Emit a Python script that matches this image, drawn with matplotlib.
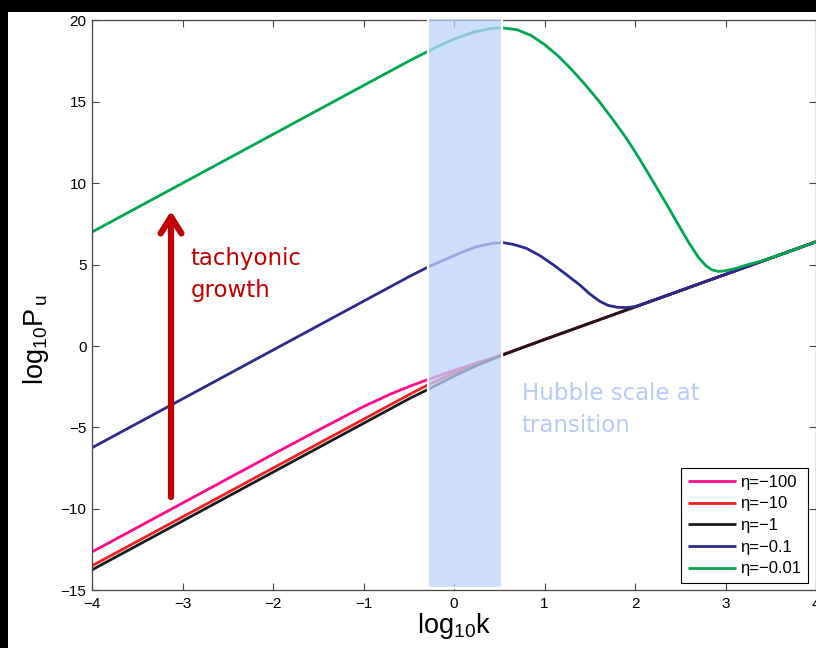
import matplotlib
matplotlib.use("Agg")
import matplotlib.pyplot as plt
from matplotlib.patches import Rectangle

plt.rcParams['font.family'] = ['Liberation Sans', 'DejaVu Sans']
plt.rcParams['mathtext.fontset'] = 'custom'
plt.rcParams['mathtext.rm'] = 'Liberation Sans'
plt.rcParams['mathtext.it'] = 'Liberation Sans'

# log10 k and log10 P_u for each conformal time eta
k_pink = [-4.0, -3.0, -2.0, -1.5, -1.0, -0.7, -0.5, -0.3, 0.0, 0.25, 0.54, 1.0, 2.0, 3.0, 4.0]
P_pink = [-12.65, -9.65, -6.65, -5.17, -3.72, -2.95, -2.5, -2.08, -1.5, -1.05, -0.53, 0.4, 2.4, 4.4, 6.4]

k_red = [-4.0, -3.0, -2.0, -1.0, -0.5, -0.3, 0.0, 0.25, 0.54, 1.0, 2.0, 3.0, 4.0]
P_red = [-13.5, -10.5, -7.5, -4.5, -3.0, -2.42, -1.65, -1.1, -0.53, 0.4, 2.4, 4.4, 6.4]

k_black = [-4.0, -3.0, -2.0, -1.0, -0.5, -0.3, 0.0, 0.25, 0.54, 1.0, 2.0, 3.0, 4.0]
P_black = [-13.75, -10.75, -7.75, -4.75, -3.25, -2.7, -1.85, -1.2, -0.55, 0.4, 2.4, 4.4, 6.4]

k_blue = [-4.0, -3.0, -2.0, -1.0, -0.5, -0.28, 0.0, 0.1, 0.25, 0.43, 0.54, 0.65, 0.8,
          0.95, 1.1, 1.25, 1.39, 1.5, 1.61, 1.7, 1.8, 1.91, 2.0, 2.13, 2.3, 2.5, 2.7,
          2.9, 3.2, 3.5, 3.75, 4.0]
P_blue = [-6.25, -3.25, -0.25, 2.75, 4.25, 4.87, 5.55, 5.79, 6.1, 6.31, 6.35, 6.25, 6.0,
          5.55, 4.98, 4.35, 3.75, 3.2, 2.75, 2.5, 2.38, 2.36, 2.42, 2.66, 3.0, 3.4, 3.8,
          4.2, 4.8, 5.4, 5.9, 6.4]

k_green = [-4.0, -3.0, -2.0, -1.0, -0.5, -0.2, 0.0, 0.2, 0.4, 0.53, 0.7, 0.85, 1.0,
           1.15, 1.3, 1.45, 1.6, 1.75, 1.9, 2.05, 2.2, 2.35, 2.5, 2.6, 2.7, 2.78, 2.85,
           2.92, 3.0, 3.1, 3.25, 3.4, 3.6, 3.8, 4.0]
P_green = [7.0, 10.0, 13.0, 16.0, 17.5, 18.35, 18.85, 19.25, 19.5, 19.55, 19.42, 19.08, 18.52,
           17.82, 16.98, 16.05, 15.05, 13.95, 12.8, 11.5, 10.1, 8.7, 7.25, 6.3, 5.45, 4.95, 4.68,
           4.58, 4.62, 4.75, 5.0, 5.22, 5.6, 6.0, 6.4]

labels = ['η=−100', 'η=−10', 'η=−1', 'η=−0.1', 'η=−0.01']
colors = ['#ff0a8c', '#ee2024', '#1a1a1a', '#2b2b8e', '#00a651']

x_ticks = [-4, -3, -2, -1, 0, 1, 2, 3, 4]
y_ticks = [-15, -10, -5, 0, 5, 10, 15, 20]

# shaded k-range around the Hubble scale at the transition
band_k = (-0.29, 0.53)

W, H = 816, 648
fig = plt.figure(figsize=(W / 100, H / 100), dpi=100, facecolor='black')
fig.add_artist(Rectangle((8 / W, 0), 1 - 8 / W, 1 - 12 / H, transform=fig.transFigure,
                         facecolor='white', edgecolor='none', zorder=-5))

ax = fig.add_axes([92 / W, (H - 590.2) / H, 724 / W, 569.8 / H])
ax.set_facecolor('white')

series = [(k_pink, P_pink), (k_red, P_red), (k_black, P_black), (k_blue, P_blue), (k_green, P_green)]
for (k, p), c, lab in zip(series, colors, labels):
    ax.plot(k, p, color=c, lw=2.0, label=lab, solid_capstyle='butt', solid_joinstyle='round')

ax.set_xlim(-4, 4)
ax.set_ylim(-15, 20)
ax.set_xticks(x_ticks)
ax.set_yticks(y_ticks)
for s in ax.spines.values():
    s.set_color('#444444')
    s.set_linewidth(0.9)
ax.tick_params(which='both', direction='in', top=True, right=True, length=5,
               width=0.8, color='#444444', labelsize=11)
ax.tick_params(axis='x', pad=5)
ax.tick_params(axis='y', pad=4)

ax.set_xlabel(r'$\mathregular{log_{10}k}$', fontsize=19.5, labelpad=0)
fig.text(36 / W, 1 - 340 / H, r'$\mathregular{log_{10}P_{\,u}}$', fontsize=19.5,
         rotation=90, ha='center', va='center')

ax.add_patch(Rectangle((band_k[0], -14.88), band_k[1] - band_k[0], 20.15 + 14.88,
                       facecolor=(188 / 255, 211 / 255, 248 / 255), alpha=0.75,
                       edgecolor='none', zorder=4, clip_on=False))
ax.add_patch(Rectangle((band_k[0], -14.88), band_k[1] - band_k[0], 20.15 + 14.88,
                       facecolor='none', edgecolor='white', lw=1.6, zorder=4.5, clip_on=False))

ax.annotate('', xy=(-3.127, 8.3), xytext=(-3.127, -9.28),
            arrowprops=dict(arrowstyle='->,head_length=1.2,head_width=0.75', lw=4.5,
                            color='#c00000', shrinkA=0, shrinkB=0, mutation_scale=10),
            zorder=6)
red_txt = dict(color='#c00000', fontsize=16.5, family='DejaVu Sans', ha='left', va='baseline', zorder=6)
ax.text(-2.91, (346 - 265) / 16.28, 'tachyonic', **red_txt)
ax.text(-2.91, (346 - 296.7) / 16.28, 'growth', **red_txt)

blue_txt = dict(color='#b8cbf8', fontsize=16.5, family='DejaVu Sans', ha='left', va='baseline', zorder=6)
ax.text(0.75, (346 - 400) / 16.28, 'Hubble scale at', **blue_txt)
ax.text(0.75, (346 - 431.7) / 16.28, 'transition', **blue_txt)

leg = ax.legend(loc='lower right', bbox_to_anchor=(808 / W, (H - 583) / H),
                bbox_transform=fig.transFigure, borderaxespad=0, fontsize=12,
                fancybox=False, framealpha=1, edgecolor='black', handlelength=2.9,
                handletextpad=0.25, labelspacing=0.4, borderpad=0.4)
leg.get_frame().set_linewidth(0.8)
leg.set_zorder(10)

fig.savefig('out.png', dpi=100, facecolor='black')
